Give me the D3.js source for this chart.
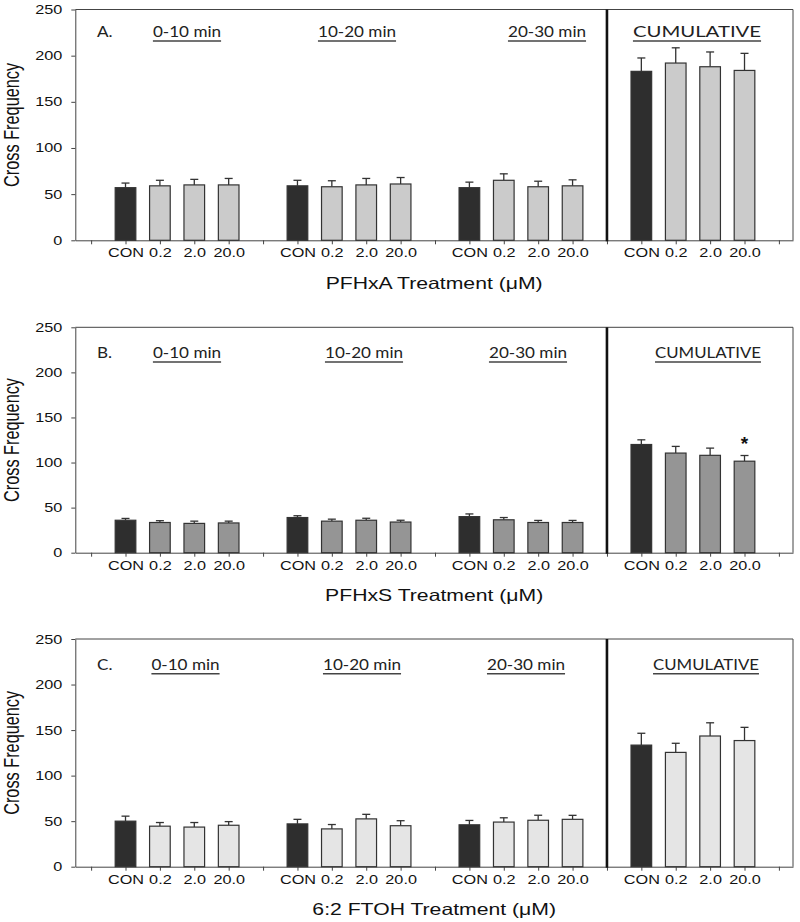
<!DOCTYPE html>
<html><head><meta charset="utf-8">
<script src="https://cdn.jsdelivr.net/npm/d3@7"></script>
<style>body{margin:0;background:#fff}</style>
</head><body>
<svg id="chart" width="800" height="922"></svg>
<script>
// ---------- data ----------
const doses = ["CON", "0.2", "2.0", "20.0"];
const periods = ["0-10 min", "10-20 min", "20-30 min", "CUMULATIVE"];
const yTicks = [0, 50, 100, 150, 200, 250];
const panelLetters = ["A.", "B.", "C."];
const compounds = ["PFHxA", "PFHxS", "6:2 FTOH"];

// means, 4 doses per period (0-10, 10-20, 20-30, cumulative)
const pfhxaMean = [57, 59, 60, 60,   59, 58, 60, 61,   57, 65, 58, 59,   183, 192, 188, 184];
const pfhxaErr  = [5, 6, 6, 7,       6, 6.5, 7, 7,     6, 7, 6, 6.5,     14.5, 16.5, 16, 18.5];
const pfhxsMean = [36, 33.5, 32.5, 33, 39, 35, 36, 34, 40, 36.5, 33.5, 33.5, 120, 110.5, 108, 101.5];
const pfhxsErr  = [2, 2, 2.5, 2,     2, 2.2, 2.2, 2,   3, 2.5, 2.3, 2.3, 5.2, 7.4, 8, 6.3];
const ftohMean  = [50, 44.5, 43.5, 45.5, 47, 41.5, 52.5, 45, 46, 49, 51, 52, 133.5, 125.5, 143.5, 138.5];
const ftohErr   = [5.5, 4, 5, 4,     5, 4.8, 5, 5.5,   4.8, 4.7, 5.5, 4.4, 13, 10, 14.5, 14.5];
// significance markers: [period index, dose index] per panel
const pfhxaSig = [];
const pfhxsSig = [[3, 3]];
const ftohSig = [];

const conColor = "#2e2e2e";
const treatColors = ["#cbcbcb", "#959595", "#e5e5e5"];

// ---------- layout ----------
const SX = 1.3; // horizontal text stretch of the original figure
const svg = d3.select("#chart");
const left = 75.3, right = 793;
const panels = [
  {top: 9.5,   bottom: 240.3, mean: pfhxaMean, err: pfhxaErr, sig: pfhxaSig,
   titleX: [187, 357, 547, 697], titleDy: 27.8, cumScale: 1.27},
  {top: 327.3, bottom: 552.7, mean: pfhxsMean, err: pfhxsErr, sig: pfhxsSig,
   titleX: [187, 364, 528, 708], titleDy: 31, cumScale: 1.12},
  {top: 639,   bottom: 866.7, mean: ftohMean,  err: ftohErr,  sig: ftohSig,
   titleX: [185.5, 362, 526, 706], titleDy: 31, cumScale: 1.12}
];

const x = d3.scaleLinear().domain([-0.46, 20.41]).range([left, right]);
const slotOf = (p, d) => 1 + p * 5 + d;
const slotLabel = s => {
  const r = (s - 1) % 5;
  return (s >= 1 && s <= 19 && r < 4) ? doses[r] : "";
};
const barW = 0.6 * (x(1) - x(0));
const lineCol = "#444";

panels.forEach((P, pi) => {
  const y = d3.scaleLinear().domain([0, 250]).range([P.bottom, P.top]);
  const g = svg.append("g");

  // frame top & right
  g.append("line").attr("x1", left).attr("x2", right).attr("y1", P.top).attr("y2", P.top)
    .attr("stroke", lineCol).attr("stroke-width", 1);
  g.append("line").attr("x1", right).attr("x2", right).attr("y1", P.top).attr("y2", P.bottom)
    .attr("stroke", lineCol).attr("stroke-width", 1);

  // y axis
  const ya = g.append("g").attr("transform", `translate(${left},0)`)
    .call(d3.axisLeft(y).tickValues(yTicks).tickSize(4).tickSizeOuter(0).tickPadding(9));
  ya.select(".domain").attr("stroke", lineCol);
  ya.selectAll(".tick line").attr("stroke", lineCol);
  ya.selectAll(".tick text")
    .attr("font-family", "Liberation Sans, Arial, sans-serif").attr("font-size", 12.5)
    .attr("fill", "#111")
    .attr("x", -13 / SX).attr("transform", `scale(${SX},1)`);

  // x axis
  const xa = g.append("g").attr("transform", `translate(0,${P.bottom})`)
    .call(d3.axisBottom(x).tickValues(d3.range(21)).tickFormat(slotLabel)
      .tickSize(4).tickSizeOuter(0));
  xa.select(".domain").attr("stroke", lineCol);
  xa.selectAll(".tick line").attr("stroke", lineCol);
  xa.selectAll(".tick text")
    .attr("font-family", "Liberation Sans, Arial, sans-serif").attr("font-size", 12.5)
    .attr("fill", "#111").attr("y", 17.2).attr("dy", 0)
    .attr("transform", `scale(${SX},1)`);

  // divider
  g.append("line").attr("x1", x(15)).attr("x2", x(15)).attr("y1", P.top).attr("y2", P.bottom + 1)
    .attr("stroke", "#111").attr("stroke-width", 2.6);

  // bars
  const rows = [];
  periods.forEach((per, p) => doses.forEach((d, di) => {
    const k = p * 4 + di;
    rows.push({slot: slotOf(p, di), v: P.mean[k], e: P.err[k], con: di === 0});
  }));
  // error bars (drawn behind bars)
  const eb = g.append("g").attr("stroke", "#333").attr("stroke-width", 1.3);
  rows.forEach(r => {
    eb.append("line").attr("x1", x(r.slot)).attr("x2", x(r.slot))
      .attr("y1", y(r.v)).attr("y2", y(r.v + r.e));
    eb.append("line").attr("x1", x(r.slot) - 4).attr("x2", x(r.slot) + 4)
      .attr("y1", y(r.v + r.e)).attr("y2", y(r.v + r.e));
  });
  g.selectAll("rect.bar").data(rows).join("rect").attr("class", "bar")
    .attr("x", r => x(r.slot) - barW / 2).attr("width", barW)
    .attr("y", r => y(r.v)).attr("height", r => y(0) - y(r.v))
    .attr("fill", r => r.con ? conColor : treatColors[pi])
    .attr("stroke", "#333").attr("stroke-width", 1.2);

  // significance
  P.sig.forEach(([p, di]) => {
    const k = p * 4 + di;
    g.append("text").attr("x", x(slotOf(p, di))).attr("y", y(P.mean[k] + P.err[k]) - 6)
      .attr("text-anchor", "middle").attr("font-family", "Liberation Sans, Arial, sans-serif")
      .attr("font-weight", "bold").attr("font-size", 19).attr("fill", "#111").text("*");
  });

  // period titles (underlined)
  const tBase = P.top + P.titleDy;
  periods.forEach((t, p) => {
    const sc = p === 3 ? P.cumScale : 1.14;
    const fs = p === 3 && pi === 0 ? 16 : 15;
    const tt = g.append("text")
      .attr("transform", `translate(${P.titleX[p]},${tBase}) scale(${sc},1)`)
      .attr("text-anchor", "middle").attr("font-family", "Lato, sans-serif")
      .attr("font-size", fs).attr("fill", "#222").text(t);
    const w = tt.node().getComputedTextLength() * sc;
    g.append("line").attr("x1", P.titleX[p] - w / 2).attr("x2", P.titleX[p] + w / 2)
      .attr("y1", tBase + 3.8).attr("y2", tBase + 3.8)
      .attr("stroke", "#444").attr("stroke-width", 1.5);
  });

  // panel letter
  g.append("text").attr("transform", `translate(97,${tBase}) scale(1.14,1)`)
    .attr("font-family", "Lato, sans-serif").attr("font-size", 15).attr("fill", "#222")
    .text(panelLetters[pi]);

  // y label
  g.append("text")
    .attr("transform", `translate(18.5,${(P.top + P.bottom) / 2}) scale(${SX},1) rotate(-90)`)
    .attr("text-anchor", "middle").attr("font-family", "Liberation Sans, Arial, sans-serif")
    .attr("font-size", 16.3).attr("fill", "#111").text("Cross Frequency");

  // x title
  g.append("text")
    .attr("transform", `translate(${(left + right) / 2},${P.bottom + 48.5}) scale(${SX},1)`)
    .attr("text-anchor", "middle").attr("font-family", "Liberation Sans, Arial, sans-serif")
    .attr("font-size", 16.3).attr("fill", "#111").text(compounds[pi] + " Treatment (\u03BCM)");
});
</script>
</body></html>
